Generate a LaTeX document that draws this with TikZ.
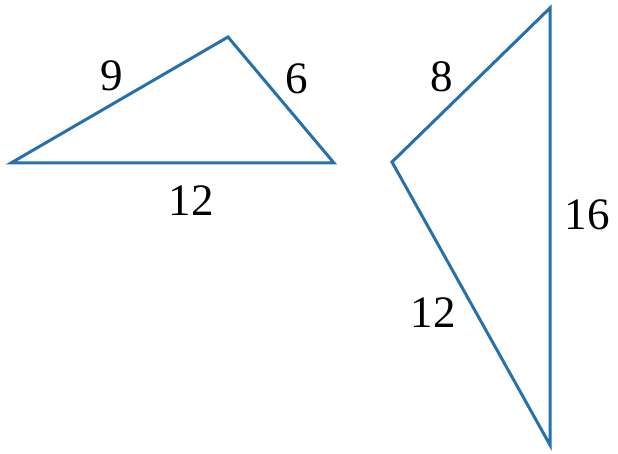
\documentclass[tikz,border=0pt]{standalone}
\usepackage{fontspec}
\setmainfont{Liberation Serif}
\begin{document}
\begin{tikzpicture}[x=1pt,y=-1pt,
  edge/.style={draw=triblue,line width=3pt,line join=miter},
  lbl/.style={font=\fontsize{45}{47}\selectfont,inner sep=0pt,text=black}]
\definecolor{triblue}{RGB}{38,112,172}
\useasboundingbox (0,0) rectangle (618,454);
% triangle 1
\coordinate (A1) at (11,163);
\coordinate (B1) at (228,37);
\coordinate (C1) at (334,163);
\draw[edge] (A1) -- (B1) -- (C1) -- cycle;
\node[lbl] (l9) at (112,76) {9};
\node[lbl] (l6) at (297,79) {6};
\node[lbl] (l12a) at (191,201) {12};
% triangle 2
\coordinate (A2) at (550,8);
\coordinate (B2) at (392,162);
\coordinate (C2) at (550,445);
\draw[edge] (A2) -- (B2) -- (C2) -- cycle;
\node[lbl] (l8) at (442,77) {8};
\node[lbl] (l16) at (587,215) {16};
\node[lbl] (l12b) at (433,313) {12};
\end{tikzpicture}
\end{document}
